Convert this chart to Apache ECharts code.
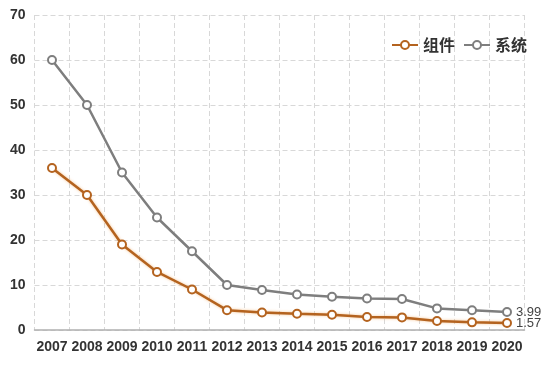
<!DOCTYPE html>
<html><head><meta charset="utf-8">
<script src="https://cdn.jsdelivr.net/npm/echarts@6/dist/echarts.min.js"></script>
<style>html,body{margin:0;padding:0;background:#fff}#c{width:552px;height:369px}</style>
</head><body><div id="c"></div>
<script>
const years = ['2007','2008','2009','2010','2011','2012','2013','2014','2015','2016','2017','2018','2019','2020'];
const componentValues = [36, 30, 19, 12.9, 9, 4.4, 3.9, 3.6, 3.4, 2.9, 2.8, 2.0, 1.7, 1.57];
const systemValues = [60, 50, 35, 25, 17.5, 10, 8.9, 7.9, 7.4, 7.0, 6.9, 4.8, 4.4, 3.99];
const seriesNames = ['组件', '系统'];
const yTicks = [0, 10, 20, 30, 40, 50, 60, 70];

const orange = '#b4631f';
const gray = '#7e7e7e';
const font = 'Liberation Sans, Arial, sans-serif';

const chart = echarts.init(document.getElementById('c'), null, {renderer: 'canvas'});
function lastLabel() {
  return {
    show: true, position: 'right', distance: 4,
    color: '#444', fontSize: 13, fontFamily: font,
    formatter: p => p.dataIndex === years.length - 1 ? String(p.value) : ''
  };
}
chart.setOption({
  animation: false,
  backgroundColor: '#fff',
  grid: {left: 34.5, right: 27.5, top: 15, bottom: 39, containLabel: false},
  legend: {
    data: seriesNames,
    right: 20, top: 32,
    itemWidth: 26, itemHeight: 10, itemGap: 8,
    textStyle: {fontSize: 16, fontWeight: 'bold', color: '#333', fontFamily: 'Noto Sans CJK SC, sans-serif'}
  },
  xAxis: {
    type: 'category', data: years, boundaryGap: true,
    axisLine: {show: true, lineStyle: {color: '#b0b0b0', width: 1.5}},
    axisTick: {show: false},
    axisLabel: {color: '#333', fontSize: 14, fontWeight: 'bold', fontFamily: font, margin: 10, interval: 0},
    splitLine: {show: true, lineStyle: {color: '#d8d8d8', type: [5, 3], width: 1}}
  },
  yAxis: {
    type: 'value', min: yTicks[0], max: yTicks[yTicks.length - 1], interval: 10,
    axisLine: {show: false},
    axisTick: {show: false},
    axisLabel: {color: '#333', fontSize: 14, fontWeight: 'bold', fontFamily: font, margin: 9},
    splitLine: {show: true, lineStyle: {color: '#d8d8d8', type: [5, 3], width: 1}}
  },
  series: [
    {
      name: seriesNames[0], type: 'line', data: componentValues,
      symbol: 'circle', symbolSize: 8,
      itemStyle: {color: '#fff', borderColor: orange, borderWidth: 2},
      lineStyle: {color: orange, width: 2.5, shadowColor: 'rgba(240,160,80,0.6)', shadowBlur: 3},
      label: lastLabel(),
      z: 3
    },
    {
      name: seriesNames[1], type: 'line', data: systemValues,
      symbol: 'circle', symbolSize: 8,
      itemStyle: {color: '#fff', borderColor: gray, borderWidth: 2},
      lineStyle: {color: gray, width: 2.5},
      label: lastLabel(),
      z: 2
    }
  ]
});
</script></body></html>
